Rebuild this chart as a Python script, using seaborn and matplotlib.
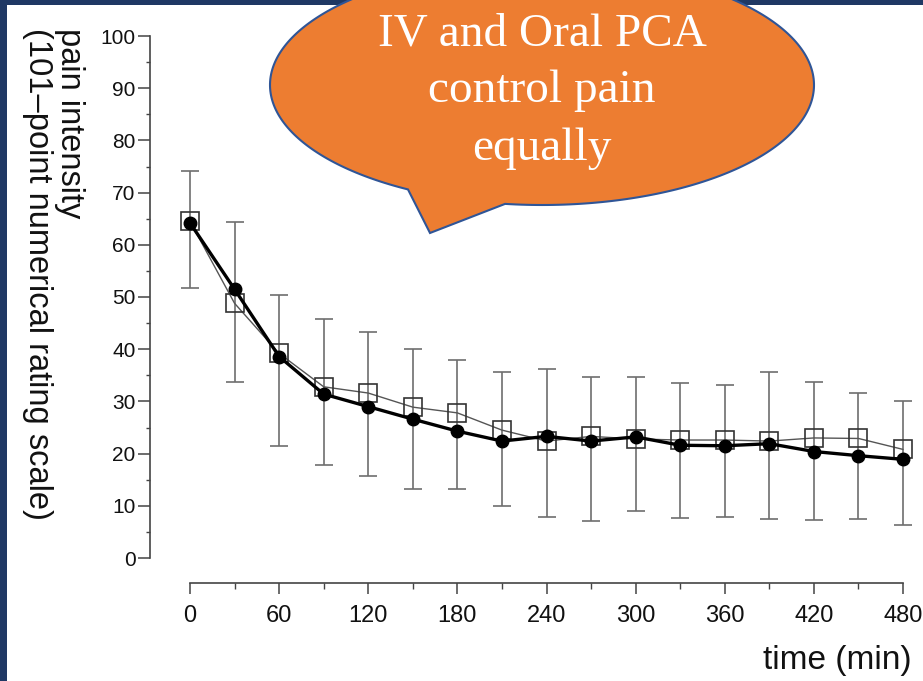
#%%
# Pain intensity over time - IV vs Oral PCA (slide recreation)
import numpy as np
import pandas as pd
import matplotlib
matplotlib.use("Agg")
import matplotlib.pyplot as plt
from matplotlib.patches import Rectangle, Polygon
import seaborn as sns

sns.set_style("ticks")
plt.rcParams['font.family'] = ['Liberation Sans', 'DejaVu Sans']

#%%
# Data
time_min = [0, 30, 60, 90, 120, 150, 180, 210, 240, 270, 300, 330, 360, 390, 420, 450, 480]
open_squares = [64.5, 48.8, 39.2, 32.8, 31.6, 28.9, 27.8, 24.5, 22.4, 23.3, 22.8, 22.6, 22.6, 22.4, 23.0, 22.9, 20.8]
filled_circles = [64.2, 51.5, 38.6, 31.4, 29.0, 26.6, 24.3, 22.4, 23.3, 22.4, 23.2, 21.6, 21.5, 21.9, 20.4, 19.6, 18.9]
err_top = [74.2, 64.4, 50.3, 45.7, 43.2, 40.0, 37.9, 35.6, 36.3, 34.6, 34.6, 33.5, 33.1, 35.6, 33.8, 31.7, 30.0]
err_bottom = [51.8, 33.7, 21.4, 17.8, 15.7, 13.2, 13.2, 9.9, 7.8, 7.1, 9.0, 7.6, 7.8, 7.5, 7.3, 7.5, 6.3]

y_ticks = list(range(0, 101, 10))
x_ticks = list(range(0, 481, 60))

bubble_lines = ["IV and Oral PCA", "control pain", "equally"]

df = pd.DataFrame({
    "time": time_min,
    "open": open_squares,
    "filled": filled_circles,
    "top": err_top,
    "bottom": err_bottom,
})

#%%
W, H = 923, 681
fig = plt.figure(figsize=(W / 100, H / 100), dpi=100)
fig.patch.set_facecolor("white")
# 0 min sits at x=190 px, 480 min at x=903 px
ax = fig.add_axes([150 / W, 1 - 558 / H, (920 - 150) / W, (558 - 36) / H])

# error bars
yerr = [df["filled"] - df["bottom"], df["top"] - df["filled"]]
ax.errorbar(df["time"], df["filled"], yerr=yerr, fmt="none",
            ecolor="#6e6e6e", elinewidth=1.2, capsize=6.5, capthick=1.2, zorder=1)

sns.lineplot(data=df, x="time", y="open", ax=ax, color="#555555", linewidth=1.0,
             marker="s", markersize=13, markerfacecolor="none",
             markeredgecolor="#333333", markeredgewidth=1.2, zorder=2)
sns.lineplot(data=df, x="time", y="filled", ax=ax, color="black", linewidth=2.4,
             marker="o", markersize=9, markerfacecolor="black",
             markeredgecolor="black", markeredgewidth=1, zorder=3)

ax.set_xlim(-26.9, 491.4)
ax.set_ylim(0, 100)
ax.set_xticks(x_ticks)
ax.set_xticks(list(range(0, 481, 30)), minor=True)
ax.set_yticks(y_ticks)
ax.set_yticks(list(range(0, 101, 5)), minor=True)
ax.set_xlabel("")
ax.set_ylabel("")

for side in ["top", "right"]:
    ax.spines[side].set_visible(False)
ax.spines["left"].set_bounds(0, 100)
ax.spines["bottom"].set_bounds(0, 480)
ax.spines["bottom"].set_position(("outward", 18))
for side in ["left", "bottom"]:
    ax.spines[side].set_color("#444444")
    ax.spines[side].set_linewidth(1.2)

ax.tick_params(axis="y", which="major", length=8.5, width=1.1, color="#444444",
               pad=2, labelsize=15, labelcolor="#111111")
ax.tick_params(axis="y", which="minor", length=3, width=1.0, color="#444444")
ax.tick_params(axis="x", which="major", length=8, width=1.1, color="#444444",
               pad=8, labelsize=17, labelcolor="#111111")
ax.tick_params(axis="x", which="minor", length=4, width=1.0, color="#444444")

# axis titles (read top to bottom)
fig.text(69 / W, 1 - 28 / H, "pain intensity", rotation=270, ha="center", va="top",
         fontsize=23.5, color="#111111")
fig.text(37 / W, 1 - 28 / H, "(101\u2013point numerical rating scale)", rotation=270,
         ha="center", va="top", fontsize=23.5, color="#111111")
fig.text(912 / W, 1 - 660 / H, "time (min)", ha="right", va="center",
         fontsize=24, color="#111111")

# slide border
navy = "#1f3864"
fig.patches.append(Rectangle((0, 1 - 5 / H), 1, 5 / H, transform=fig.transFigure,
                             facecolor=navy, edgecolor="none", zorder=5))
fig.patches.append(Rectangle((0, 0), 7 / W, 1, transform=fig.transFigure,
                             facecolor=navy, edgecolor="none", zorder=5))

# speech bubble
cx, cy, a, b = 542, 85, 272, 120
t = np.linspace(2.086, 2 * np.pi + 1.707, 300)
px = cx + a * np.cos(t)
py = cy + b * np.sin(t)
px = np.append(px, 430)
py = np.append(py, 233)
pts = np.column_stack([px / W, 1 - py / H])
fig.patches.append(Polygon(pts, closed=True, transform=fig.transFigure,
                           facecolor="#ed7d31", edgecolor="#2f5597",
                           linewidth=1.5, zorder=10))

for line, base in zip(bubble_lines, [45, 102, 160]):
    fig.text(cx / W, 1 - base / H, line, ha="center", va="baseline",
             fontsize=34, color="white", family=["Liberation Serif", "DejaVu Serif"],
             zorder=11)

fig.savefig("out.png", dpi=100)
